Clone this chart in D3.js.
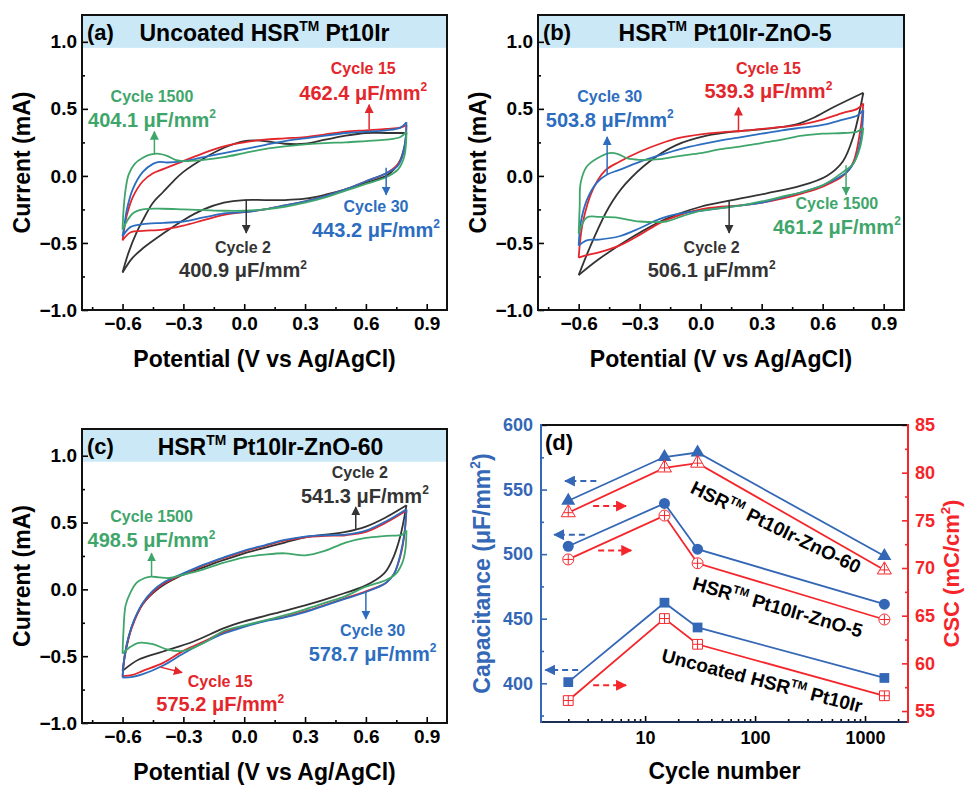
<!DOCTYPE html>
<html>
<head>
<meta charset="utf-8">
<script src="https://cdn.jsdelivr.net/npm/d3@7"></script>
<style>
body { margin: 0; background: #fff; }
svg text { font-family: "Liberation Sans", Arial, sans-serif; font-weight: bold; }
</style>
</head>
<body>
<svg id="svg"></svg>
<script>
var width = 966, height = 785;
var svg = d3.select("#svg")
	.attr("width", width)
	.attr("height", height);

var cBlack = "#333333", cRed = "#e3262c", cBlue = "#2c6dbf", cGreen = "#3fa66b";
var dBlue = "#3467b5", dRed = "#f5262b";

// CV loops, [potential V, current mA], anodic sweep then cathodic sweep
var a2 = [[-0.6,-0.72],[-0.57,-0.57],[-0.53,-0.42],[-0.5,-0.33],[-0.45,-0.2],[-0.4,-0.12],[-0.35,-0.04],[-0.3,0.03],[-0.2,0.13],[-0.1,0.21],[0.0,0.26],[0.06,0.265],[0.12,0.255],[0.2,0.24],[0.3,0.24],[0.4,0.27],[0.5,0.30],[0.6,0.32],[0.7,0.32],[0.8,0.32],
	[0.79,0.22],[0.77,0.12],[0.74,0.05],[0.7,0.0],[0.6,-0.05],[0.5,-0.1],[0.4,-0.14],[0.3,-0.17],[0.2,-0.18],[0.1,-0.18],[0.0,-0.18],[-0.1,-0.2],[-0.2,-0.25],[-0.3,-0.33],[-0.4,-0.43],[-0.5,-0.54],[-0.55,-0.61],[-0.6,-0.72]];
var a15 = [[-0.6,-0.48],[-0.59,-0.38],[-0.58,-0.30],[-0.55,-0.16],[-0.5,-0.04],[-0.45,0.02],[-0.4,0.05],[-0.3,0.11],[-0.2,0.17],[-0.1,0.22],[0.0,0.25],[0.1,0.27],[0.2,0.28],[0.3,0.29],[0.4,0.31],[0.5,0.33],[0.6,0.34],[0.7,0.35],[0.77,0.36],[0.8,0.38],
	[0.79,0.2],[0.76,0.09],[0.7,0.02],[0.6,-0.04],[0.5,-0.1],[0.4,-0.15],[0.3,-0.19],[0.2,-0.22],[0.1,-0.25],[0.0,-0.27],[-0.1,-0.29],[-0.2,-0.33],[-0.3,-0.37],[-0.4,-0.40],[-0.5,-0.41],[-0.56,-0.42],[-0.6,-0.48]];
var a30 = [[-0.6,-0.45],[-0.59,-0.36],[-0.58,-0.26],[-0.55,-0.1],[-0.5,0.03],[-0.45,0.09],[-0.42,0.105],[-0.38,0.10],[-0.3,0.11],[-0.2,0.14],[-0.1,0.17],[0.0,0.20],[0.1,0.23],[0.2,0.26],[0.3,0.28],[0.4,0.30],[0.5,0.32],[0.6,0.33],[0.7,0.34],[0.77,0.36],[0.8,0.40],
	[0.79,0.21],[0.76,0.08],[0.7,0.02],[0.6,-0.04],[0.5,-0.1],[0.4,-0.15],[0.3,-0.19],[0.2,-0.22],[0.1,-0.25],[0.0,-0.27],[-0.1,-0.28],[-0.2,-0.31],[-0.3,-0.34],[-0.4,-0.35],[-0.5,-0.36],[-0.56,-0.38],[-0.6,-0.45]];
var a1500 = [[-0.6,-0.40],[-0.595,-0.25],[-0.585,-0.1],[-0.57,0.01],[-0.54,0.09],[-0.5,0.135],[-0.46,0.16],[-0.42,0.165],[-0.38,0.15],[-0.34,0.12],[-0.3,0.11],[-0.2,0.12],[-0.1,0.14],[0.0,0.17],[0.1,0.2],[0.2,0.22],[0.3,0.235],[0.4,0.245],[0.5,0.25],[0.6,0.26],[0.7,0.27],[0.77,0.29],[0.8,0.33],
	[0.79,0.15],[0.76,0.05],[0.7,-0.01],[0.6,-0.06],[0.5,-0.11],[0.4,-0.16],[0.3,-0.2],[0.2,-0.23],[0.1,-0.25],[0.0,-0.26],[-0.1,-0.26],[-0.2,-0.255],[-0.3,-0.25],[-0.4,-0.245],[-0.5,-0.25],[-0.55,-0.28],[-0.6,-0.40]];

var b2 = [[-0.6,-0.74],[-0.53,-0.48],[-0.45,-0.23],[-0.37,-0.06],[-0.25,0.11],[-0.12,0.23],[0.03,0.30],[0.16,0.33],[0.32,0.35],[0.46,0.38],[0.55,0.43],[0.65,0.51],[0.8,0.62],
	[0.75,0.29],[0.7,0.11],[0.62,0.0],[0.49,-0.075],[0.325,-0.13],[0.14,-0.185],[0.0,-0.23],[-0.17,-0.32],[-0.33,-0.45],[-0.5,-0.62],[-0.6,-0.74]];
var b15 = [[-0.6,-0.61],[-0.58,-0.35],[-0.53,-0.10],[-0.47,0.04],[-0.4,0.105],[-0.3,0.18],[-0.2,0.24],[-0.1,0.285],[0.0,0.31],[0.1,0.325],[0.2,0.335],[0.3,0.35],[0.4,0.365],[0.5,0.385],[0.6,0.42],[0.7,0.47],[0.77,0.50],[0.8,0.54],
	[0.785,0.34],[0.75,0.1],[0.7,0.0],[0.6,-0.08],[0.5,-0.13],[0.4,-0.17],[0.3,-0.2],[0.2,-0.22],[0.1,-0.23],[0.0,-0.25],[-0.1,-0.29],[-0.2,-0.35],[-0.3,-0.44],[-0.4,-0.52],[-0.5,-0.57],[-0.56,-0.59],[-0.6,-0.61]];
var b30 = [[-0.6,-0.52],[-0.59,-0.35],[-0.56,-0.18],[-0.51,-0.05],[-0.46,0.01],[-0.4,0.045],[-0.3,0.105],[-0.2,0.155],[-0.1,0.2],[0.0,0.235],[0.1,0.265],[0.2,0.29],[0.3,0.315],[0.4,0.34],[0.5,0.36],[0.6,0.38],[0.7,0.42],[0.77,0.45],[0.8,0.49],
	[0.79,0.3],[0.76,0.12],[0.72,0.03],[0.6,-0.07],[0.5,-0.12],[0.4,-0.16],[0.3,-0.2],[0.2,-0.22],[0.1,-0.24],[0.0,-0.26],[-0.1,-0.28],[-0.2,-0.32],[-0.3,-0.39],[-0.4,-0.45],[-0.5,-0.475],[-0.56,-0.48],[-0.6,-0.52]];
var b1500 = [[-0.6,-0.43],[-0.595,-0.23],[-0.59,-0.05],[-0.56,0.07],[-0.51,0.13],[-0.45,0.17],[-0.41,0.165],[-0.36,0.13],[-0.3,0.12],[-0.2,0.125],[-0.1,0.15],[0.0,0.17],[0.1,0.2],[0.2,0.22],[0.3,0.245],[0.4,0.27],[0.5,0.30],[0.6,0.315],[0.7,0.32],[0.77,0.33],[0.8,0.36],
	[0.785,0.22],[0.75,0.09],[0.71,0.04],[0.6,-0.07],[0.5,-0.12],[0.4,-0.155],[0.3,-0.19],[0.2,-0.22],[0.1,-0.24],[0.0,-0.26],[-0.09,-0.30],[-0.17,-0.34],[-0.3,-0.34],[-0.42,-0.31],[-0.5,-0.305],[-0.56,-0.31],[-0.6,-0.43]];

var c2 = [[-0.6,-0.61],[-0.58,-0.43],[-0.55,-0.26],[-0.5,-0.11],[-0.42,0.01],[-0.33,0.09],[-0.2,0.165],[-0.1,0.22],[0.0,0.27],[0.1,0.31],[0.2,0.35],[0.3,0.39],[0.4,0.41],[0.5,0.43],[0.6,0.47],[0.7,0.54],[0.8,0.63],
	[0.77,0.40],[0.73,0.22],[0.69,0.12],[0.6,0.03],[0.45,-0.05],[0.3,-0.12],[0.15,-0.18],[0.0,-0.24],[-0.1,-0.29],[-0.25,-0.39],[-0.4,-0.465],[-0.52,-0.525],[-0.6,-0.61]];
var c15 = [[-0.6,-0.65],[-0.59,-0.5],[-0.57,-0.36],[-0.54,-0.23],[-0.5,-0.11],[-0.45,-0.02],[-0.4,0.04],[-0.3,0.115],[-0.2,0.18],[-0.1,0.235],[0.0,0.285],[0.1,0.325],[0.2,0.365],[0.3,0.39],[0.4,0.40],[0.5,0.405],[0.6,0.43],[0.7,0.50],[0.8,0.59],
	[0.79,0.41],[0.77,0.25],[0.74,0.12],[0.7,0.05],[0.6,-0.015],[0.5,-0.065],[0.4,-0.115],[0.3,-0.165],[0.2,-0.205],[0.1,-0.235],[0.0,-0.275],[-0.1,-0.32],[-0.2,-0.39],[-0.3,-0.46],[-0.4,-0.55],[-0.5,-0.61],[-0.55,-0.64],[-0.6,-0.65]];
var c30 = [[-0.6,-0.66],[-0.59,-0.5],[-0.57,-0.35],[-0.54,-0.22],[-0.5,-0.1],[-0.45,-0.01],[-0.4,0.05],[-0.3,0.12],[-0.2,0.185],[-0.1,0.24],[0.0,0.29],[0.1,0.33],[0.2,0.37],[0.3,0.395],[0.4,0.405],[0.5,0.41],[0.6,0.44],[0.7,0.51],[0.8,0.60],
	[0.79,0.42],[0.77,0.26],[0.74,0.12],[0.7,0.05],[0.6,-0.02],[0.5,-0.07],[0.4,-0.12],[0.3,-0.17],[0.2,-0.21],[0.1,-0.24],[0.0,-0.28],[-0.1,-0.33],[-0.2,-0.40],[-0.3,-0.48],[-0.4,-0.57],[-0.5,-0.635],[-0.55,-0.655],[-0.6,-0.66]];
var c1500 = [[-0.6,-0.48],[-0.595,-0.3],[-0.585,-0.12],[-0.56,-0.02],[-0.53,0.05],[-0.49,0.085],[-0.46,0.095],[-0.42,0.09],[-0.37,0.085],[-0.3,0.11],[-0.2,0.15],[-0.1,0.2],[0.0,0.24],[0.1,0.26],[0.2,0.27],[0.3,0.255],[0.4,0.29],[0.5,0.35],[0.6,0.385],[0.7,0.40],[0.78,0.41],[0.8,0.44],
	[0.795,0.3],[0.78,0.2],[0.75,0.12],[0.7,0.07],[0.6,0.02],[0.5,-0.05],[0.4,-0.1],[0.3,-0.15],[0.16,-0.21],[0.0,-0.27],[-0.1,-0.31],[-0.2,-0.40],[-0.3,-0.46],[-0.38,-0.45],[-0.45,-0.41],[-0.52,-0.40],[-0.57,-0.44],[-0.6,-0.48]];

var cvXTicks = [-0.6, -0.3, 0.0, 0.3, 0.6, 0.9];
var cvXMinor = [-0.75, -0.45, -0.15, 0.15, 0.45, 0.75];
var cvYTicks = [-1.0, -0.5, 0.0, 0.5, 1.0];
var cvYMinor = [-0.75, -0.25, 0.25, 0.75];

// panel (d)
var cycles = [2, 15, 30, 1500];
var capUncoated = [400.9, 462.4, 443.2, 404.1];
var capZnO5 = [506.1, 539.3, 503.8, 461.2];
var capZnO60 = [541.3, 575.2, 578.7, 498.5];
var cscUncoated = [56.1, 64.7, 62.0, 56.6];
var cscZnO5 = [70.9, 75.5, 70.5, 64.6];
var cscZnO60 = [75.8, 80.5, 81.0, 69.8];
var dXTicks = [10, 100, 1000];
var dXMinor = [2,3,4,5,6,7,8,9,20,30,40,50,60,70,80,90,200,300,400,500,600,700,800,900,2000];
var capTicks = [400, 450, 500, 550, 600];
var capMinor = [375, 425, 475, 525, 575];
var cscTicks = [55, 60, 65, 70, 75, 80, 85];
var cscMinor = [57.5, 62.5, 67.5, 72.5, 77.5, 82.5];

var defs = svg.append("defs");
[["k", cBlack, 9], ["r", cRed, 9], ["b", cBlue, 9], ["g", cGreen, 9], ["db", dBlue, 11], ["dr", dRed, 11]].forEach(function(m) {
	defs.append("marker")
		.attr("id", "head-" + m[0])
		.attr("viewBox", "0 0 10 10")
		.attr("refX", 9).attr("refY", 5)
		.attr("markerUnits", "userSpaceOnUse")
		.attr("markerWidth", m[2]).attr("markerHeight", m[2])
		.attr("orient", "auto")
		.append("path")
		.attr("d", "M0,0 L10,5 L0,10 z")
		.attr("fill", m[1]);
});
var headId = {};
headId[cBlack] = "k"; headId[cRed] = "r"; headId[cBlue] = "b"; headId[cGreen] = "g";

// text with superscript parts: [text, isSup]
function rich(t, parts, size)
{
	var up = false;
	parts.forEach(function(p) {
		var s = t.append("tspan").text(p[0]);
		if (p[1] && !up) { s.attr("font-size", size * 0.6).attr("dy", -size * 0.42); up = true; }
		else if (!p[1] && up) { s.attr("font-size", size).attr("dy", size * 0.42); up = false; }
	});
}

function styleAxis(g, size, color)
{
	g.select(".domain").remove();
	g.selectAll("line").attr("stroke", color).attr("stroke-width", 1.6);
	g.selectAll("text").attr("font-size", size).attr("fill", color);
}

function cvPanel(p)
{
	var x = d3.scaleLinear().domain([-0.8, 1.0]).range([p.left, p.left + p.w]);
	var y = d3.scaleLinear().domain([-1.0, 1.2]).range([p.top + p.h, p.top]);
	var g = svg.append("g");

	g.append("rect")
		.attr("x", x(-0.8)).attr("y", y(1.2))
		.attr("width", p.w).attr("height", y(0.955) - y(1.2))
		.attr("fill", "#cbe8f7");

	var fmt = d3.format(".1f");
	g.append("g")
		.attr("transform", "translate(0," + (p.top + p.h) + ")")
		.call(d3.axisBottom(x).tickValues(cvXTicks).tickFormat(fmt).tickSizeInner(-6).tickSizeOuter(0).tickPadding(7))
		.call(styleAxis, 19, "#000");
	g.append("g")
		.attr("transform", "translate(0," + (p.top + p.h) + ")")
		.call(d3.axisBottom(x).tickValues(cvXMinor).tickFormat("").tickSizeInner(-3).tickSizeOuter(0))
		.call(styleAxis, 19, "#000");
	g.append("g")
		.attr("transform", "translate(" + p.left + ",0)")
		.call(d3.axisLeft(y).tickValues(cvYTicks).tickFormat(fmt).tickSizeInner(-6).tickSizeOuter(0).tickPadding(5))
		.call(styleAxis, 19, "#000");
	g.append("g")
		.attr("transform", "translate(" + p.left + ",0)")
		.call(d3.axisLeft(y).tickValues(cvYMinor).tickFormat("").tickSizeInner(-3).tickSizeOuter(0))
		.call(styleAxis, 19, "#000");

	var line = d3.line()
		.x(function(d) { return x(d[0]); })
		.y(function(d) { return y(d[1]); })
		.curve(d3.curveCatmullRom.alpha(0.5));
	p.loops.forEach(function(l) {
		var k = d3.maxIndex(l.data, function(d) { return d[0]; });
		[l.data.slice(0, k + 1), l.data.slice(k)].forEach(function(br) {
			g.append("path")
				.attr("d", line(br))
				.attr("fill", "none")
				.attr("stroke", l.color)
				.attr("stroke-width", 1.8);
		});
	});

	g.append("rect")
		.attr("x", p.left).attr("y", p.top)
		.attr("width", p.w).attr("height", p.h)
		.attr("fill", "none").attr("stroke", "#111").attr("stroke-width", 2);

	p.notes.forEach(function(n) {
		g.append("line")
			.attr("x1", x(n.ar[0])).attr("y1", y(n.ar[1]))
			.attr("x2", x(n.ar[2])).attr("y2", y(n.ar[3]))
			.attr("stroke", n.color).attr("stroke-width", 1.5)
			.attr("marker-end", "url(#head-" + headId[n.color] + ")");
		g.append("text")
			.attr("x", x(n.v)).attr("y", y(n.i1)).attr("dy", "0.35em")
			.attr("text-anchor", "middle").attr("font-size", 16).attr("fill", n.color)
			.text(n.t1);
		var t = g.append("text")
			.attr("x", x(n.v2 === undefined ? n.v : n.v2)).attr("y", y(n.i2)).attr("dy", "0.35em")
			.attr("text-anchor", "middle").attr("font-size", 20).attr("fill", n.color);
		rich(t, [[n.t2 + " \u03bcF/mm", false], ["2", true]], 20);
	});

	g.append("text")
		.attr("x", p.left + 5).attr("y", p.top + 25)
		.attr("font-size", 22)
		.text(p.letter);
	var tt = g.append("text")
		.attr("x", p.left + p.w / 2 + p.titleShift).attr("y", p.top + 26)
		.attr("text-anchor", "middle").attr("font-size", 23);
	rich(tt, p.title, 23);

	g.append("text")
		.attr("x", p.left + p.w / 2).attr("y", p.top + p.h + 57)
		.attr("text-anchor", "middle").attr("font-size", 23)
		.text("Potential (V vs Ag/AgCl)");
	g.append("text")
		.attr("transform", "translate(" + (p.left - 52) + "," + (p.top + p.h / 2) + ") rotate(-90)")
		.attr("text-anchor", "middle").attr("font-size", 23)
		.text("Current (mA)");
}

cvPanel({
	left: 82, top: 15, w: 365, h: 295, letter: "(a)", titleShift: 0,
	title: [["Uncoated HSR", false], ["TM", true], [" Pt10Ir", false]],
	loops: [{data: a2, color: cBlack}, {data: a15, color: cRed}, {data: a30, color: cBlue}, {data: a1500, color: cGreen}],
	notes: [
		{color: cGreen, t1: "Cycle 1500", t2: "404.1", v: -0.455, i1: 0.595, i2: 0.42, ar: [-0.443, 0.16, -0.443, 0.33]},
		{color: cRed, t1: "Cycle 15", t2: "462.4", v: 0.587, i1: 0.80, i2: 0.62, ar: [0.616, 0.35, 0.616, 0.53]},
		{color: cBlue, t1: "Cycle 30", t2: "443.2", v: 0.65, i1: -0.225, i2: -0.40, ar: [0.70, 0.06, 0.70, -0.14]},
		{color: cBlack, t1: "Cycle 2", t2: "400.9", v: -0.006, i1: -0.53, i2: -0.705, ar: [0.01, -0.175, 0.01, -0.425]}
	]
});

cvPanel({
	left: 538, top: 15, w: 366, h: 295, letter: "(b)", titleShift: 4,
	title: [["HSR", false], ["TM", true], [" Pt10Ir-ZnO-5", false]],
	loops: [{data: b2, color: cBlack}, {data: b15, color: cRed}, {data: b30, color: cBlue}, {data: b1500, color: cGreen}],
	notes: [
		{color: cBlue, t1: "Cycle 30", t2: "503.8", v: -0.447, i1: 0.595, i2: 0.42, ar: [-0.46, 0.01, -0.46, 0.29]},
		{color: cRed, t1: "Cycle 15", t2: "539.3", v: 0.333, i1: 0.805, i2: 0.63, ar: [0.186, 0.325, 0.186, 0.51]},
		{color: cGreen, t1: "Cycle 1500", t2: "461.2", v: 0.67, i1: -0.205, i2: -0.38, ar: [0.715, 0.08, 0.715, -0.14]},
		{color: cBlack, t1: "Cycle 2", t2: "506.1", v: 0.054, i1: -0.53, i2: -0.705, ar: [0.14, -0.18, 0.14, -0.425]}
	]
});

cvPanel({
	left: 82, top: 429, w: 365, h: 294, letter: "(c)", titleShift: 6,
	title: [["HSR", false], ["TM", true], [" Pt10Ir-ZnO-60", false]],
	loops: [{data: c2, color: cBlack}, {data: c15, color: cRed}, {data: c30, color: cBlue}, {data: c1500, color: cGreen}],
	notes: [
		{color: cBlack, t1: "Cycle 2", t2: "541.3", v: 0.57, v2: 0.595, i1: 0.876, i2: 0.70, ar: [0.55, 0.45, 0.55, 0.615]},
		{color: cGreen, t1: "Cycle 1500", t2: "498.5", v: -0.457, i1: 0.545, i2: 0.37, ar: [-0.457, 0.097, -0.457, 0.27]},
		{color: cBlue, t1: "Cycle 30", t2: "578.7", v: 0.633, i1: -0.306, i2: -0.48, ar: [0.6, -0.02, 0.6, -0.22]},
		{color: cRed, t1: "Cycle 15", t2: "575.2", v: -0.118, i1: -0.687, i2: -0.86, ar: [-0.413, -0.582, -0.307, -0.622]}
	]
});

// ---- panel (d)
var dL = 541, dR = 908, dT = 425, dB = 722;
var xd = d3.scaleLog().domain([1.13, 2460]).range([dL, dR]);
var yCap = d3.scaleLinear().domain([370, 600]).range([dB, dT]);
var yCsc = d3.scaleLinear().domain([53.85, 85]).range([dB, dT]);
var gd = svg.append("g");

gd.append("g")
	.attr("transform", "translate(0," + dB + ")")
	.call(d3.axisBottom(xd).tickValues(dXTicks).tickFormat(d3.format("d")).tickSizeInner(-6).tickSizeOuter(0).tickPadding(9))
	.call(styleAxis, 18, "#000");
gd.append("g")
	.attr("transform", "translate(0," + dB + ")")
	.call(d3.axisBottom(xd).tickValues(dXMinor).tickFormat("").tickSizeInner(-3).tickSizeOuter(0))
	.call(styleAxis, 18, "#000");
gd.append("g")
	.attr("transform", "translate(" + dL + ",0)")
	.call(d3.axisLeft(yCap).tickValues(capTicks).tickSizeInner(-6).tickSizeOuter(0).tickPadding(8))
	.call(styleAxis, 18, dBlue);
gd.append("g")
	.attr("transform", "translate(" + dL + ",0)")
	.call(d3.axisLeft(yCap).tickValues(capMinor).tickFormat("").tickSizeInner(-3).tickSizeOuter(0))
	.call(styleAxis, 18, dBlue);
gd.append("g")
	.attr("transform", "translate(" + dR + ",0)")
	.call(d3.axisRight(yCsc).tickValues(cscTicks).tickSizeInner(-6).tickSizeOuter(0).tickPadding(7))
	.call(styleAxis, 18, dRed);
gd.append("g")
	.attr("transform", "translate(" + dR + ",0)")
	.call(d3.axisRight(yCsc).tickValues(cscMinor).tickFormat("").tickSizeInner(-3).tickSizeOuter(0))
	.call(styleAxis, 18, dRed);

// spines
gd.append("line").attr("x1", dL).attr("x2", dR).attr("y1", dT).attr("y2", dT).attr("stroke", "#111").attr("stroke-width", 2);
gd.append("line").attr("x1", dL).attr("x2", dR).attr("y1", dB).attr("y2", dB).attr("stroke", "#1d2f55").attr("stroke-width", 2);
gd.append("line").attr("x1", dL).attr("x2", dL).attr("y1", dT - 1).attr("y2", dB + 1).attr("stroke", dBlue).attr("stroke-width", 2);
gd.append("line").attr("x1", dR).attr("x2", dR).attr("y1", dT - 1).attr("y2", dB + 1).attr("stroke", dRed).attr("stroke-width", 2);

var dSeries = [
	{cap: capUncoated, csc: cscUncoated, sym: d3.symbolSquare, size: 95},
	{cap: capZnO5, csc: cscZnO5, sym: d3.symbolCircle, size: 95},
	{cap: capZnO60, csc: cscZnO60, sym: d3.symbolTriangle, size: 85}
];

dSeries.forEach(function(s) {
	var capPts = cycles.map(function(c, i) { return [xd(c), yCap(s.cap[i])]; });
	var cscPts = cycles.map(function(c, i) { return [xd(c), yCsc(s.csc[i])]; });
	gd.append("path").attr("d", d3.line()(cscPts)).attr("fill", "none").attr("stroke", dRed).attr("stroke-width", 1.8);
	gd.append("path").attr("d", d3.line()(capPts)).attr("fill", "none").attr("stroke", dBlue).attr("stroke-width", 1.8);
	var sym = d3.symbol().type(s.sym).size(s.size);
	capPts.forEach(function(pt) {
		gd.append("path").attr("d", sym()).attr("transform", "translate(" + pt[0] + "," + pt[1] + ")").attr("fill", dBlue);
	});
	cscPts.forEach(function(pt) {
		var m = gd.append("g").attr("transform", "translate(" + pt[0] + "," + pt[1] + ")");
		m.append("path").attr("d", sym()).attr("fill", "#fff").attr("stroke", dRed).attr("stroke-width", 1);
		var r = s.sym === d3.symbolTriangle ? 4.4 : Math.sqrt(s.size) / 2;
		var top = s.sym === d3.symbolTriangle ? -7.1 : -r;
		var bot = s.sym === d3.symbolTriangle ? 3.5 : r;
		m.append("line").attr("x1", -r).attr("x2", r).attr("y1", 0).attr("y2", 0).attr("stroke", dRed).attr("stroke-width", 1);
		m.append("line").attr("x1", 0).attr("x2", 0).attr("y1", top).attr("y2", bot).attr("stroke", dRed).attr("stroke-width", 1);
	});
});

// dashed arrows pointing at the axis each curve belongs to
[[3.6, 1.87, 556.6], [2.83, 1.49, 515], [2.46, 1.24, 410.3]].forEach(function(a) {
	gd.append("line")
		.attr("x1", xd(a[0])).attr("x2", xd(a[1])).attr("y1", yCap(a[2])).attr("y2", yCap(a[2]))
		.attr("stroke", dBlue).attr("stroke-width", 2).attr("stroke-dasharray", "6,4")
		.attr("marker-end", "url(#head-db)");
});
[[3.37, 6.7, 76.5], [3.74, 7.46, 71.85], [3.37, 6.7, 57.7]].forEach(function(a) {
	gd.append("line")
		.attr("x1", xd(a[0])).attr("x2", xd(a[1])).attr("y1", yCsc(a[2])).attr("y2", yCsc(a[2]))
		.attr("stroke", dRed).attr("stroke-width", 2).attr("stroke-dasharray", "6,4")
		.attr("marker-end", "url(#head-dr)");
});

[
	{c: 155, v: 521, rot: 26, parts: [["HSR", false], ["TM", true], [" Pt10Ir-ZnO-60", false]]},
	{c: 161, v: 459, rot: 16, parts: [["HSR", false], ["TM", true], [" Pt10Ir-ZnO-5", false]]},
	{c: 116, v: 402, rot: 14.5, parts: [["Uncoated HSR", false], ["TM", true], [" Pt10Ir", false]]}
].forEach(function(l) {
	var t = gd.append("text")
		.attr("transform", "translate(" + xd(l.c) + "," + yCap(l.v) + ") rotate(" + l.rot + ")")
		.attr("text-anchor", "middle").attr("dy", "0.35em").attr("font-size", 19);
	rich(t, l.parts, 19);
});

gd.append("text").attr("x", dL + 4).attr("y", dT + 25).attr("font-size", 22).text("(d)");
gd.append("text")
	.attr("x", (dL + dR) / 2).attr("y", dB + 57)
	.attr("text-anchor", "middle").attr("font-size", 23)
	.text("Cycle number");
var tl = gd.append("text")
	.attr("transform", "translate(490," + ((dT + dB) / 2) + ") rotate(-90)")
	.attr("text-anchor", "middle").attr("font-size", 23).attr("fill", dBlue);
rich(tl, [["Capacitance (\u03bcF/mm", false], ["2", true], [")", false]], 23);
var tr = gd.append("text")
	.attr("transform", "translate(959," + ((dT + dB) / 2) + ") rotate(-90)")
	.attr("text-anchor", "middle").attr("font-size", 22).attr("fill", dRed);
rich(tr, [["CSC (mC/cm", false], ["2", true], [")", false]], 22);
</script>
</body>
</html>
